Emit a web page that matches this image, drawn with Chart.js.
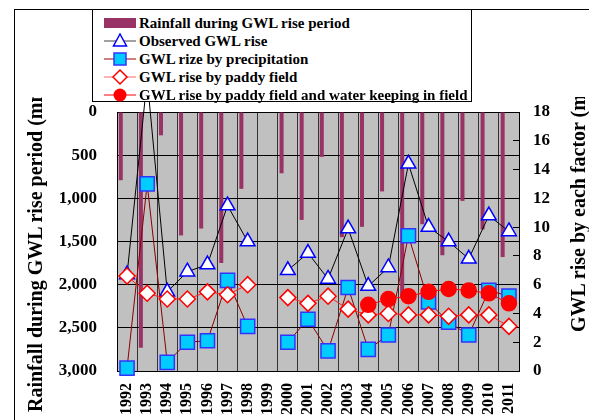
<!DOCTYPE html>
<html>
<head>
<meta charset="utf-8">
<script src="https://cdn.jsdelivr.net/npm/chart.js@4.4.1/dist/chart.umd.min.js"></script>
<style>
  html, body { margin: 0; padding: 0; background: #fff; overflow: hidden; }
  #wrap { position: relative; width: 589px; height: 420px; overflow: hidden; }
  #frame { position: absolute; left: 14px; top: 9px; width: 620px; height: 460px; border: 1px solid #000; }
  #chartBox { position: absolute; left: 0; top: 0; width: 589px; height: 420px; }
  #legend {
    position: absolute; left: 92px; top: 9px; width: 380px; height: 93px;
    border: 1px solid #000; background: #fff; padding-top: 4px; box-sizing: border-box;
    font: bold 15px "Liberation Serif", serif; color: #000;
  }
  #legend .row { height: 18px; display: flex; align-items: center; }
  #legend svg { margin-left: 11px; margin-right: 3px; }
  #titles { position: absolute; left: 0; top: 97px; width: 589px; height: 323px; overflow: hidden; }
  .axTitle {
    position: absolute; white-space: nowrap; line-height: 20px;
    font: bold 20px "Liberation Serif", serif; color: #000;
    transform: rotate(-90deg); transform-origin: 0 0;
  }
</style>
</head>
<body>
<div id="wrap">
  <div id="frame"></div>
  <div id="chartBox"><canvas id="gwlChart"></canvas></div>
  <div id="titles">
    <div class="axTitle" style="left:24px; top:315px;">Rainfall during GWL rise period (mm)</div>
    <div class="axTitle" style="left:567px; top:235px;">GWL rise by each factor (m)</div>
  </div>
  <div id="legend">
    <div class="row"><svg width="32" height="18"><rect x="0" y="4" width="32" height="10" fill="#993366"/></svg>Rainfall during GWL rise period</div>
    <div class="row"><svg width="32" height="18"><line x1="0" y1="9" x2="32" y2="9" stroke="#444" stroke-width="1"/><polygon points="16,2 22.5,14 9.5,14" fill="#fff" stroke="#0000ff" stroke-width="1.5"/></svg>Observed GWL rise</div>
    <div class="row"><svg width="32" height="18"><line x1="0" y1="9" x2="32" y2="9" stroke="#990000" stroke-width="1"/><rect x="10" y="3" width="12" height="12" fill="#00ccff" stroke="#3333ff" stroke-width="1.5"/></svg>GWL rize by precipitation</div>
    <div class="row"><svg width="32" height="18"><line x1="0" y1="9" x2="32" y2="9" stroke="#ff6666" stroke-width="1"/><polygon points="16,2 23,9 16,16 9,9" fill="#fff" stroke="#ff0000" stroke-width="1.5"/></svg>GWL rise by paddy field</div>
    <div class="row"><svg width="32" height="18"><line x1="0" y1="9" x2="32" y2="9" stroke="#ff0000" stroke-width="1"/><circle cx="16" cy="9" r="6.5" fill="#ff0000"/></svg>GWL rise by paddy field and water keeping in field</div>
  </div>
</div>
<script>
// --- Datos ---
const years = ['1992', '1993', '1994', '1995', '1996', '1997', '1998', '1999', '2000', '2001',
               '2002', '2003', '2004', '2005', '2006', '2007', '2008', '2009', '2010', '2011'];

// lluvia durante el periodo de subida (mm), eje izquierdo invertido
const rainfall = [790, 2730, 270, 1430, 1350, 1750, 890, null, 710, 1250,
                  520, 1450, 1330, 920, 2140, 1300, 1660, 1030, 1360, 1680];

// subidas de GWL (m), eje derecho
const observedRise = [6.7, 20.3, 5.5, 6.9, 7.4, 11.5, 9.0, null, 7.0, 8.2,
                      6.4, 9.9, 5.9, 7.2, 14.4, 10.0, 9.0, 7.8, 10.8, 9.7];
const precipRise = [0.2, 13.0, 0.6, 2.0, 2.1, 6.3, 3.1, null, 2.0, 3.6,
                    1.4, 5.8, 1.5, 2.5, 9.4, 4.8, 3.4, 2.5, 5.6, 5.2];
const paddyRise = [6.6, 5.4, 5.0, 5.0, 5.5, 5.3, 6.0, null, 5.1, 4.7,
                   5.2, 4.3, 3.9, 4.0, 3.9, 3.9, 3.8, 3.9, 3.9, 3.1];
const keepingRise = [null, null, null, null, null, null, null, null, null, null,
                     null, null, 4.6, 5.0, 5.2, 5.5, 5.7, 5.6, 5.4, 4.7];

const rainTicks = { min: 0, max: 3000, step: 500 };
const riseTicks = { min: 0, max: 18, step: 2 };

const tickFont = { family: 'Liberation Serif', weight: 'bold', size: 17 };

// fondo gris del área del gráfico
const plotBg = {
    id: 'plotBg',
    beforeDraw(chart) {
        const a = chart.chartArea;
        chart.ctx.save();
        chart.ctx.fillStyle = '#c0c0c0';
        chart.ctx.fillRect(a.left, a.top, a.right - a.left, a.bottom - a.top);
        chart.ctx.restore();
    }
};

const lineBase = { type: 'line', yAxisID: 'y1', borderWidth: 1, tension: 0, spanGaps: false, clip: false, pointBorderWidth: 1.5 };

new Chart(document.getElementById('gwlChart'), {
    data: {
        labels: years,
        datasets: [
            { ...lineBase, label: 'GWL rise by paddy field and water keeping in field', data: keepingRise, order: 1,
              borderColor: '#ff0000', pointStyle: 'circle', pointRadius: 7.5, pointBackgroundColor: '#ff0000', pointBorderColor: '#ff0000' },
            { ...lineBase, label: 'GWL rise by paddy field', data: paddyRise, order: 2,
              borderColor: '#ff2020', pointStyle: 'rectRot', pointRadius: 8, pointBackgroundColor: '#fff', pointBorderColor: '#ff0000' },
            { ...lineBase, label: 'GWL rize by precipitation', data: precipRise, order: 3,
              borderColor: '#8b0000', pointStyle: 'rect', pointRadius: 10, pointBackgroundColor: '#00ccff', pointBorderColor: '#3333ff' },
            { ...lineBase, label: 'Observed GWL rise', data: observedRise, order: 4,
              borderColor: '#000', pointStyle: 'triangle', pointRadius: 8.5, pointBackgroundColor: '#fff', pointBorderColor: '#0000ff' },
            { type: 'bar', label: 'Rainfall during GWL rise period', data: rainfall, yAxisID: 'y', order: 5,
              backgroundColor: '#993366', categoryPercentage: 1.25, barPercentage: 0.32 },
            // hueco vacío para que la barra quede a la izquierda de la categoría
            { type: 'bar', label: '', data: years.map(() => null), yAxisID: 'y', order: 6,
              backgroundColor: 'rgba(0,0,0,0)', categoryPercentage: 1.25, barPercentage: 0.32 }
        ]
    },
    options: {
        responsive: true,
        maintainAspectRatio: false,
        animation: false,
        layout: { padding: { top: 112, left: 0, right: 0, bottom: 0 } },
        scales: {
            x: {
                offset: true,
                grid: { offset: true, color: '#333', lineWidth: 1, drawTicks: false },
                border: { color: '#000' },
                afterFit: (s) => { s.height = 49; },
                ticks: { color: '#000', font: { family: 'Liberation Serif', weight: 'bold', size: 16 },
                         minRotation: 90, maxRotation: 90, padding: 12, autoSkip: false }
            },
            y: {
                position: 'left',
                reverse: true,
                min: rainTicks.min, max: rainTicks.max,
                grid: { color: '#000', lineWidth: 1, drawTicks: false },
                border: { color: '#000' },
                afterFit: (s) => { s.width = 117; },
                ticks: { stepSize: rainTicks.step, color: '#000', font: tickFont, padding: 20 }
            },
            y1: {
                position: 'right',
                min: riseTicks.min, max: riseTicks.max,
                grid: { drawOnChartArea: false, drawTicks: true, tickLength: -6, color: '#000' },
                border: { color: '#000' },
                afterFit: (s) => { s.width = 70; },
                ticks: { stepSize: riseTicks.step, color: '#000', font: tickFont, padding: 20 }
            }
        },
        plugins: {
            legend: { display: false },
            title: { display: false },
            tooltip: { enabled: false }
        }
    },
    plugins: [plotBg]
});
</script>
</body>
</html>
